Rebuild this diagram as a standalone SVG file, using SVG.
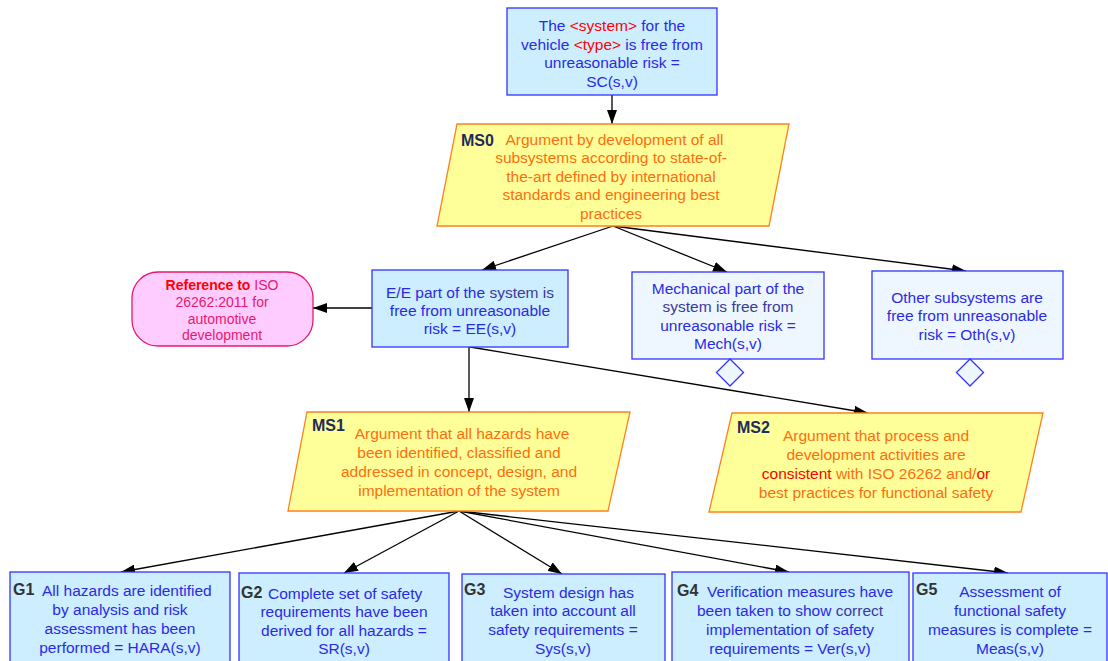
<svg xmlns="http://www.w3.org/2000/svg" width="1108" height="661" viewBox="0 0 1108 661">
  <defs>
    <marker id="arrow" viewBox="0 0 14 10" refX="14" refY="5" markerWidth="14" markerHeight="10" markerUnits="userSpaceOnUse" orient="auto">
      <path d="M0,0 L14,5 L0,10 Z" fill="#000"/>
    </marker>
  </defs>
  <style>
    text { font-family: "Liberation Sans", Arial, sans-serif; font-size: 15.5px; }
    .goal { fill: #cceeff; stroke: #3333ff; stroke-width: 1.3; }
    .undev { fill: #eef7ff; stroke: #3333ff; stroke-width: 1.3; }
    .strat { fill: #ffff99; stroke: #ff8020; stroke-width: 1.3; }
    .ctx { fill: #ffccff; stroke: #e8186e; stroke-width: 1.3; }
    .blue { fill: #2a2ae6; text-anchor: middle; }
    .dark { fill: #3a3a9c; }
    .red { fill: #ff0000; }
    .orange { fill: #ff6d10; text-anchor: middle; }
    .pink { fill: #e8186e; text-anchor: middle; font-size: 14px; }
    .slabel { fill: #1f2b5a; font-weight: bold; font-size: 16px; }
    .glabel { fill: #333333; font-weight: bold; font-size: 16px; }
    .start { text-anchor: start; }
    .edge { stroke: #000; stroke-width: 1.3; fill: none; marker-end: url(#arrow); }
  </style>

  <!-- connectors -->
  <g id="connectors">
    <line class="edge" x1="612" y1="95" x2="612" y2="124"/>
    <line class="edge" x1="613" y1="226" x2="482" y2="270"/>
    <line class="edge" x1="613" y1="226" x2="727" y2="272"/>
    <line class="edge" x1="613" y1="226" x2="966" y2="271"/>
    <line class="edge" x1="372" y1="308" x2="313" y2="308"/>
    <line class="edge" x1="469" y1="347" x2="469" y2="412"/>
    <line class="edge" x1="470" y1="347" x2="868" y2="413"/>
    <line class="edge" x1="459" y1="511" x2="121" y2="572"/>
    <line class="edge" x1="459" y1="511" x2="344" y2="573"/>
    <line class="edge" x1="459" y1="511" x2="562" y2="574"/>
    <line class="edge" x1="459" y1="511" x2="789" y2="572"/>
    <line class="edge" x1="459" y1="511" x2="1008" y2="573"/>
  </g>

  <!-- top goal -->
  <g id="SC">
    <rect class="goal" x="507" y="8" width="210" height="87"/>
    <text class="blue" x="612" y="31">The <tspan class="red">&lt;system&gt;</tspan> for the</text>
    <text class="blue" x="612" y="49.5">vehicle <tspan class="red">&lt;type&gt;</tspan> is free from</text>
    <text class="blue" x="612" y="68">unreasonable risk =</text>
    <text class="blue" x="612" y="86.5">SC(s,v)</text>
  </g>

  <!-- strategy MS0 -->
  <g id="MS0">
    <polygon class="strat" points="457,124 789,124 769,226 437,226"/>
    <text class="slabel" x="461" y="145.5">MS0</text>
    <text class="orange" x="614.5" y="144.5">Argument by development of all</text>
    <text class="orange" x="611" y="163">subsystems according to state-of-</text>
    <text class="orange" x="611" y="181.5">the-art defined by international</text>
    <text class="orange" x="611" y="200">standards and engineering best</text>
    <text class="orange" x="611" y="218.5">practices</text>
  </g>

  <!-- context -->
  <g id="REF">
    <rect class="ctx" x="132" y="272" width="181" height="74" rx="26" ry="26"/>
    <text class="pink" x="222" y="290"><tspan class="red" font-weight="bold">Reference to</tspan> ISO</text>
    <text class="pink" x="222" y="307">26262:2011 for</text>
    <text class="pink" x="222" y="323.5">automotive</text>
    <text class="pink" x="222" y="340">development</text>
  </g>

  <!-- E/E goal -->
  <g id="EE">
    <rect class="goal" x="372" y="270" width="196" height="77"/>
    <text class="blue" x="470" y="297.5">E/E part of the <tspan class="dark">system is</tspan></text>
    <text class="blue" x="470" y="315.5">free from unreasonable</text>
    <text class="blue" x="470" y="333.5">risk = EE(s,v)</text>
  </g>

  <!-- mechanical goal (undeveloped) -->
  <g id="MECH">
    <rect class="undev" x="632" y="272" width="192" height="87"/>
    <text class="blue" x="728" y="293.5">Mechanical part of the</text>
    <text class="blue dark" x="728" y="312">system is free from</text>
    <text class="blue" x="728" y="330.5">unreasonable risk =</text>
    <text class="blue" x="728" y="349">Mech(s,v)</text>
    <polygon class="undev" points="730,359 743.5,372.5 730,386 716.5,372.5"/>
  </g>

  <!-- other subsystems goal (undeveloped) -->
  <g id="OTH">
    <rect class="undev" x="872" y="271" width="191" height="88"/>
    <text class="blue" x="967" y="302.5">Other subsystems are</text>
    <text class="blue" x="967" y="321">free from unreasonable</text>
    <text class="blue" x="967" y="339.5">risk = Oth(s,v)</text>
    <polygon class="undev" points="970,359 983.5,372.5 970,386 956.5,372.5"/>
  </g>

  <!-- strategy MS1 -->
  <g id="MS1">
    <polygon class="strat" points="307,412 630,412 608,511 288,511"/>
    <text class="slabel" x="312" y="431">MS1</text>
    <text class="orange" x="462" y="438.5">Argument that all hazards have</text>
    <text class="orange" x="459" y="457.5">been identified, classified and</text>
    <text class="orange" x="459" y="476.5">addressed in concept, design, and</text>
    <text class="orange" x="459" y="495.5">implementation of the system</text>
  </g>

  <!-- strategy MS2 -->
  <g id="MS2">
    <polygon class="strat" points="732,413 1043,413 1021,512 709,512"/>
    <text class="slabel" x="737" y="433">MS2</text>
    <text class="orange" x="876" y="440.5">Argument that process and</text>
    <text class="orange" x="876" y="459.5">development activities are</text>
    <text class="orange" x="876" y="478.5"><tspan class="red">consistent</tspan> with ISO 26262 and/<tspan class="red">or</tspan></text>
    <text class="orange" x="876" y="497.5">best practices for functional safety</text>
  </g>

  <!-- sub-goals -->
  <g id="G1">
    <rect class="goal" x="10" y="572" width="220" height="95"/>
    <text class="glabel" x="13" y="594.5">G1</text>
    <text class="blue start" x="42" y="595.5">All hazards are identified</text>
    <text class="blue" x="120" y="614.5">by analysis and risk</text>
    <text class="blue" x="120" y="633.5">assessment has been</text>
    <text class="blue" x="120" y="652.5">performed = HARA(s,v)</text>
  </g>

  <g id="G2">
    <rect class="goal" x="239" y="573" width="210" height="94"/>
    <text class="glabel" x="241" y="597.5">G2</text>
    <text class="blue start" x="268" y="598.5">Complete set of safety</text>
    <text class="blue" x="344" y="617">requirements have been</text>
    <text class="blue" x="344" y="635.5">derived for all hazards =</text>
    <text class="blue" x="344" y="654">SR(s,v)</text>
  </g>

  <g id="G3">
    <rect class="goal" x="462" y="574" width="203" height="93"/>
    <text class="glabel" x="464" y="594.5">G3</text>
    <text class="blue" x="568.5" y="597.5">System design has</text>
    <text class="blue" x="563" y="616">taken into account all</text>
    <text class="blue" x="563" y="635">safety requirements =</text>
    <text class="blue" x="563" y="654">Sys(s,v)</text>
  </g>

  <g id="G4">
    <rect class="goal" x="672" y="572" width="237" height="95"/>
    <text class="glabel" x="677" y="595.5">G4</text>
    <text class="blue start" x="707" y="596.5">Verification measures have</text>
    <text class="blue" x="790" y="615.5">been taken to show <tspan class="dark">correct</tspan></text>
    <text class="blue" x="790" y="634.5">implementation of safety</text>
    <text class="blue" x="790" y="653.5">requirements = Ver(s,v)</text>
  </g>

  <g id="G5">
    <rect class="goal" x="913" y="573" width="194" height="94"/>
    <text class="glabel" x="916" y="594.5">G5</text>
    <text class="blue" x="1010" y="597">Assessment of</text>
    <text class="blue" x="1010" y="615.5">functional safety</text>
    <text class="blue" x="1010" y="634.5">measures is complete =</text>
    <text class="blue" x="1010" y="653.5">Meas(s,v)</text>
  </g>
</svg>
